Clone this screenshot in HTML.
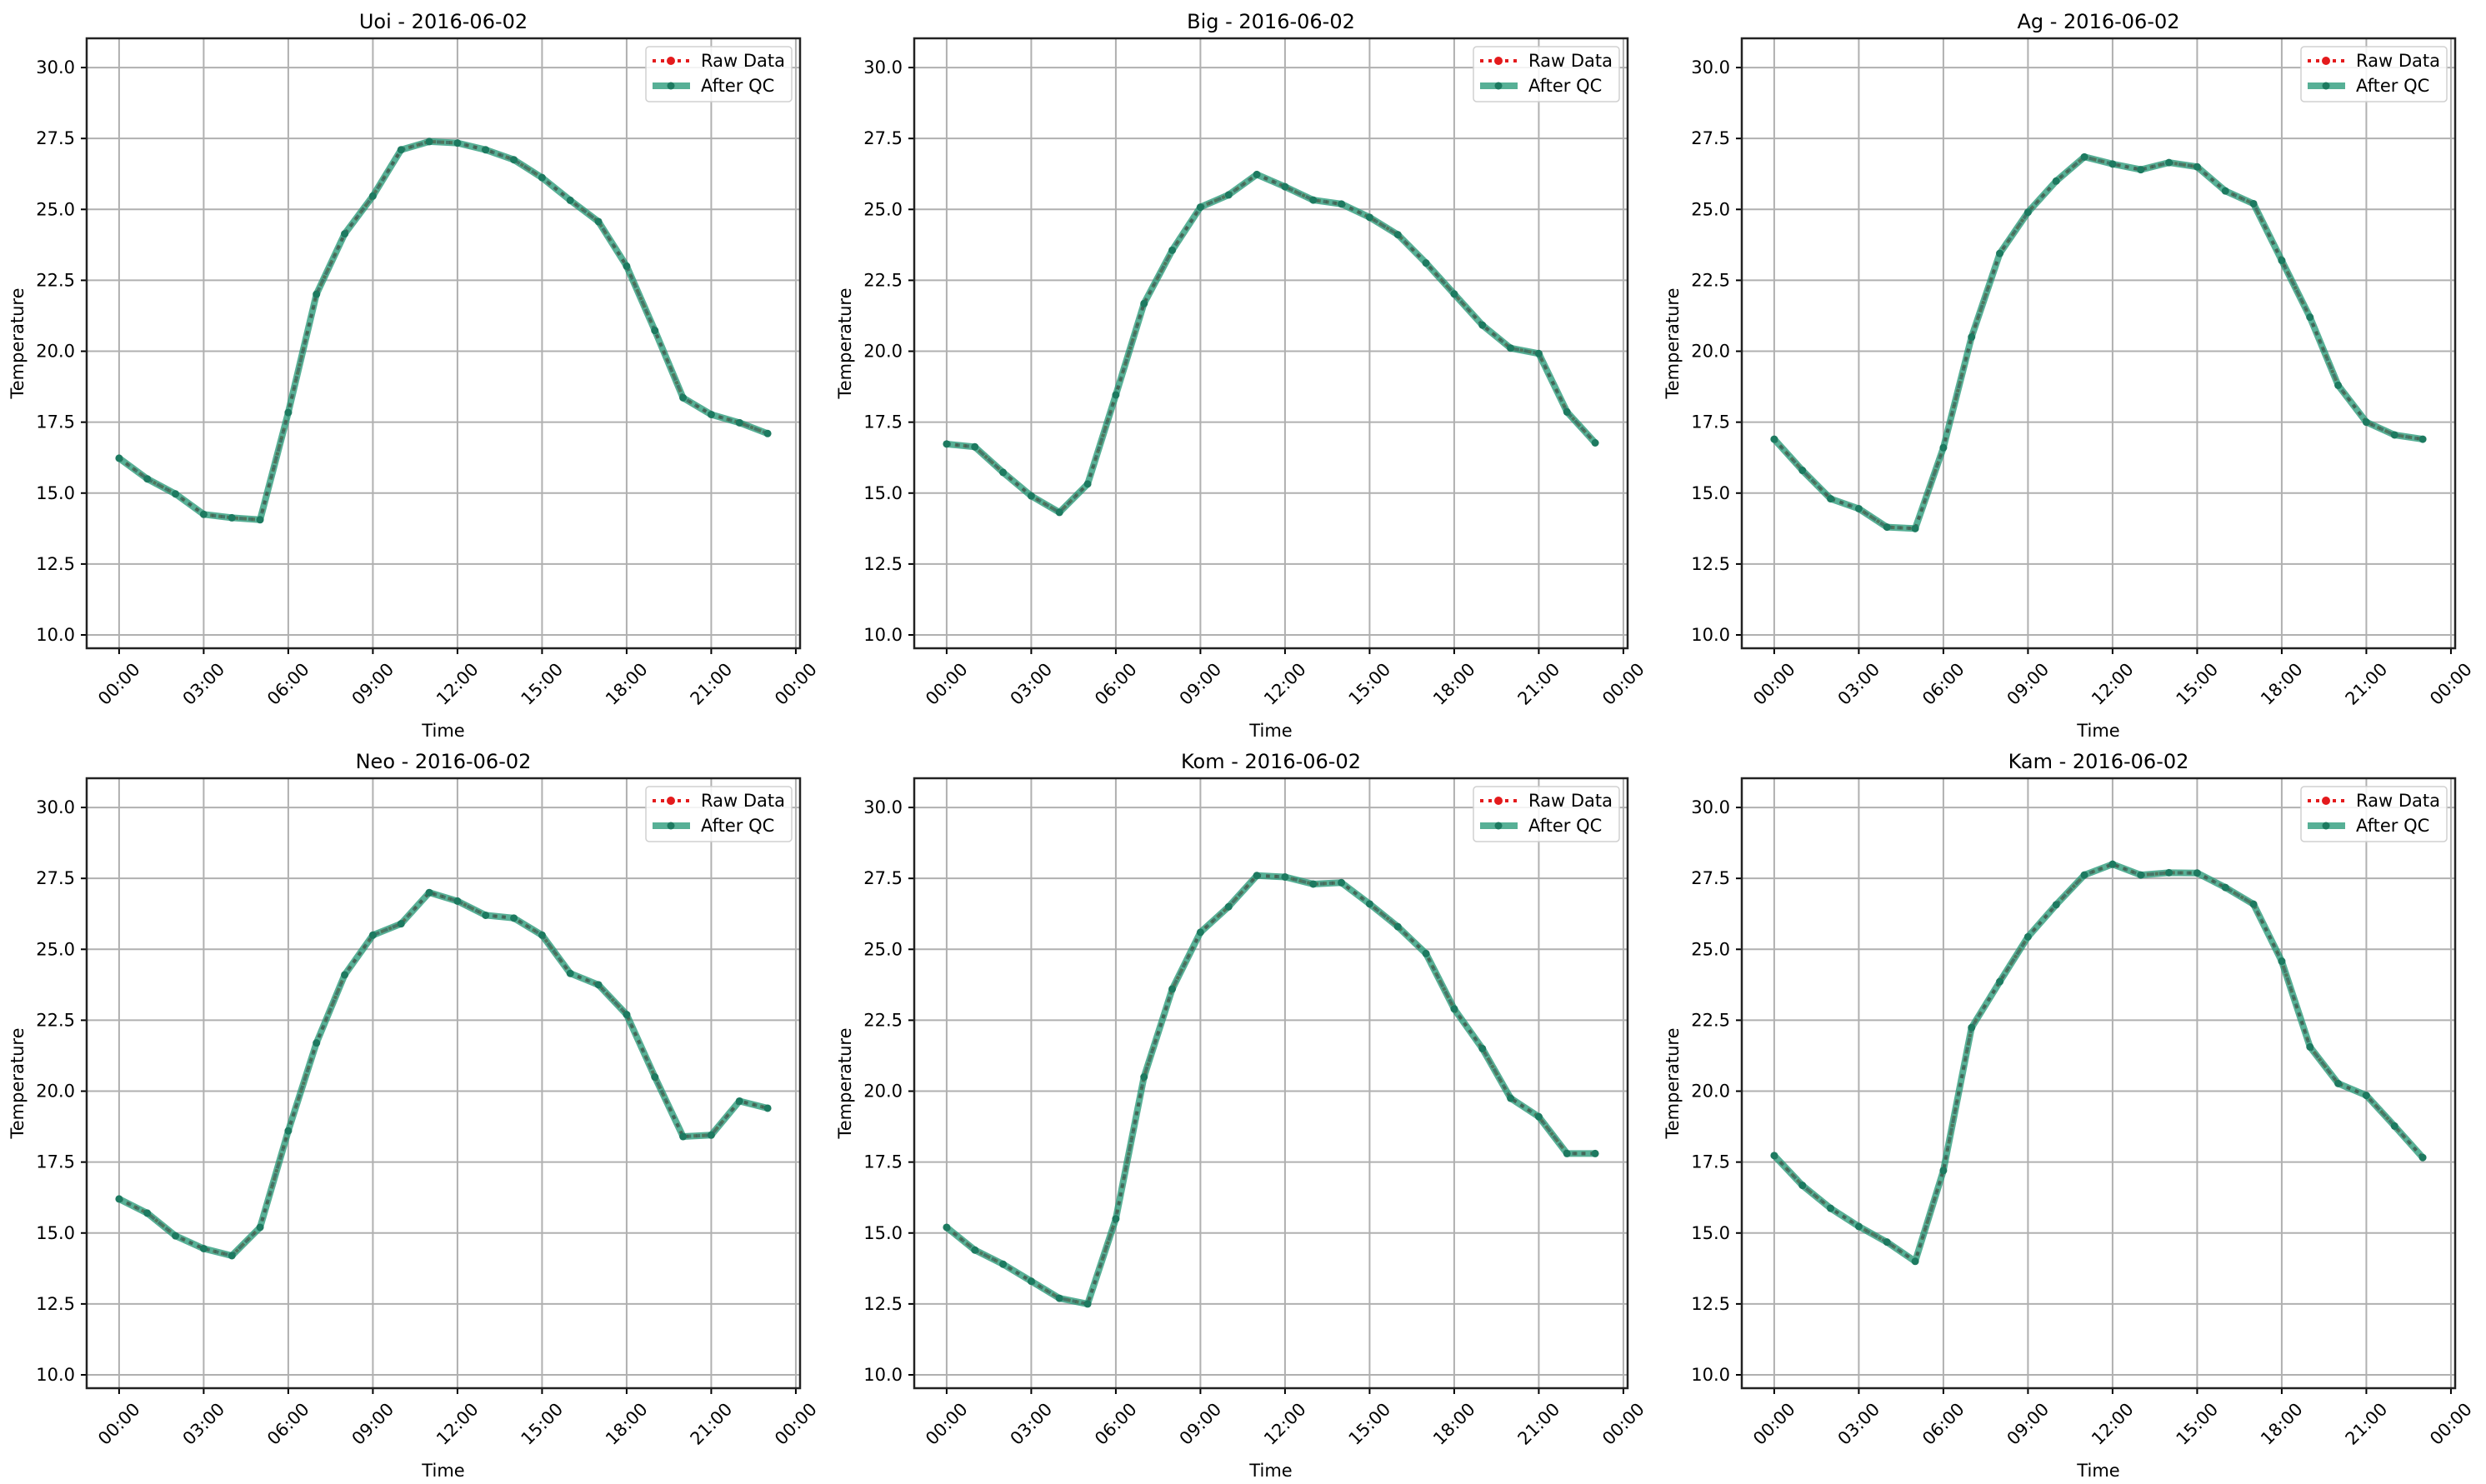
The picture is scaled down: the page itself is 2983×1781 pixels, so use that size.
<!DOCTYPE html>
<html><head><meta charset="utf-8"><style>
html,body{margin:0;padding:0;background:#fff;}
svg{display:block;font-family:"DejaVu Sans","Liberation Sans",sans-serif;}
</style></head><body>
<svg id="fig" width="2983" height="1781" viewBox="0 0 2983 1781" xmlns="http://www.w3.org/2000/svg"></svg>
<script>
const stations = ["Uoi","Big","Ag","Neo","Kom","Kam"];
const dateLabel = "2016-06-02";
const hours = [0,1,2,3,4,5,6,7,8,9,10,11,12,13,14,15,16,17,18,19,20,21,22,23];
const uoiValues = [16.23,15.5,14.97,14.25,14.13,14.06,17.84,22.01,24.14,25.47,27.1,27.39,27.34,27.1,26.75,26.12,25.32,24.57,23.0,20.73,18.36,17.77,17.48,17.1];
const bigValues = [16.73,16.63,15.73,14.9,14.32,15.32,18.46,21.68,23.56,25.08,25.51,26.23,25.8,25.33,25.19,24.72,24.11,23.11,22.02,20.92,20.11,19.92,17.86,16.77];
const agValues = [16.9,15.8,14.8,14.45,13.8,13.75,16.6,20.5,23.45,24.9,26.0,26.85,26.6,26.4,26.65,26.5,25.65,25.2,23.2,21.2,18.8,17.5,17.05,16.9];
const neoValues = [16.2,15.7,14.9,14.45,14.2,15.2,18.6,21.7,24.1,25.5,25.9,27.0,26.7,26.2,26.1,25.5,24.15,23.75,22.7,20.5,18.4,18.45,19.65,19.4];
const komValues = [15.2,14.4,13.9,13.3,12.7,12.5,15.5,20.5,23.6,25.6,26.5,27.6,27.55,27.3,27.35,26.6,25.8,24.85,22.9,21.5,19.75,19.1,17.8,17.8];
const kamValues = [17.73,16.68,15.87,15.23,14.68,14.0,17.2,22.24,23.86,25.44,26.57,27.62,28.0,27.62,27.7,27.69,27.18,26.59,24.58,21.56,20.27,19.85,18.77,17.66];
const yTicks = [10.0,12.5,15.0,17.5,20.0,22.5,25.0,27.5,30.0];
const xTickHours = [0,3,6,9,12,15,18,21,24];
const xTickLabels = ["00:00","03:00","06:00","09:00","12:00","15:00","18:00","21:00","00:00"];

const allValues = [uoiValues,bigValues,agValues,neoValues,komValues,kamValues];
const NS="http://www.w3.org/2000/svg";
const svg=document.getElementById('fig');
function mk(tag,attrs,parent){const e=document.createElementNS(NS,tag);for(const k in attrs)e.setAttribute(k,attrs[k]);(parent||svg).appendChild(e);return e;}

const colLefts=[104,1097,2090], rowTops=[46,934];
const W=856,H=732;
const xmin=-1.15,xmax=24.15,ymin=9.53,ymax=31.03;

for(let i=0;i<6;i++){
  const L=colLefts[i%3], T=rowTops[Math.floor(i/3)];
  const xs=h=>L+(h-xmin)/(xmax-xmin)*W;
  const ys=v=>T+(ymax-v)/(ymax-ymin)*H;
  const g=mk('g',{});
  
  
  const grid=mk('g',{},g);
  
  
  xTickHours.forEach((h,k)=>{
    const x=xs(h);
    mk('line',{x1:x,x2:x,y1:T,y2:T+H,stroke:'#b0b0b0','stroke-width':2},grid);
    mk('line',{x1:x,x2:x,y1:T+H,y2:T+H+7,stroke:'#000','stroke-width':2},g);
    const t=mk('text',{x:x,y:T+H+50,'font-size':21,'text-anchor':'middle',transform:`rotate(-45 ${x} ${T+H+43})`},g);
    
    
    t.textContent=xTickLabels[k];
  });
  yTicks.forEach(v=>{
    const y=ys(v);
    mk('line',{x1:L,x2:L+W,y1:y,y2:y,stroke:'#b0b0b0','stroke-width':2},grid);
    mk('line',{x1:L-7,x2:L,y1:y,y2:y,stroke:'#000','stroke-width':2},g);
    const t=mk('text',{x:L-14,y:y+7,'font-size':21,'text-anchor':'end'},g);
    
    
    t.textContent=v.toFixed(1);
  });
  const vals=allValues[i];
  const pts=hours.map((h,k)=>xs(h).toFixed(1)+','+ys(vals[k]).toFixed(1)).join(' ');
  const raw=mk('polyline',{points:pts,fill:'none',stroke:'#e41a1c','stroke-width':4,'stroke-dasharray':'4 6'},g);
  
  
  const qc=mk('polyline',{points:pts,fill:'none',stroke:'#1f9673','stroke-opacity':0.75,'stroke-width':8,'stroke-linejoin':'round'},g);
  
  
  const dash=mk('polyline',{points:pts,fill:'none',stroke:'#3d5f55','stroke-opacity':0.7,'stroke-width':4,'stroke-dasharray':'5 6'},g);
  
  
  hours.forEach((h,k)=>{
    const c=mk('circle',{cx:xs(h),cy:ys(vals[k]),r:4.5,fill:'#1d7a60'},g);
    
    
  });
  const frame=mk('rect',{x:L,y:T,width:W,height:H,fill:'none',stroke:'#222','stroke-width':2.5},g);
  
  
  const title=mk('text',{x:L+W/2,y:T-12,'font-size':24,'text-anchor':'middle'},g);
  
  
  title.textContent=stations[i]+' - '+dateLabel;
  const xl=mk('text',{x:L+W/2,y:T+H+106,'font-size':21,'text-anchor':'middle'},g);
  
  
  xl.textContent='Time';
  const yl=mk('text',{x:0,y:0,'font-size':21,'text-anchor':'middle',transform:`translate(${L-76} ${T+H/2}) rotate(-90)`},g);
  
  
  yl.textContent='Temperature';
  const lg=mk('g',{},g);
  
  
  const bx=L+W-185, by=T+10;
  mk('rect',{x:bx,y:by,width:175,height:66,rx:4,fill:'#fff','fill-opacity':0.85,stroke:'#d0d0d0','stroke-width':1.5},lg);
  mk('line',{x1:bx+8,x2:bx+53,y1:by+17,y2:by+17,stroke:'#e41a1c','stroke-width':4,'stroke-dasharray':'4 6'},lg);
  mk('circle',{cx:bx+30,cy:by+17,r:5,fill:'#e41a1c'},lg);
  mk('line',{x1:bx+8,x2:bx+53,y1:by+47,y2:by+47,stroke:'#1f9673','stroke-opacity':0.75,'stroke-width':8},lg);
  mk('circle',{cx:bx+30,cy:by+47,r:4.5,fill:'#1d7a60'},lg);
  const e1=mk('text',{x:bx+66,y:by+24,'font-size':21},lg);
  
  
  e1.textContent='Raw Data';
  const e2=mk('text',{x:bx+66,y:by+54,'font-size':21},lg);
  
  
  e2.textContent='After QC';
}
</script>
</body></html>
